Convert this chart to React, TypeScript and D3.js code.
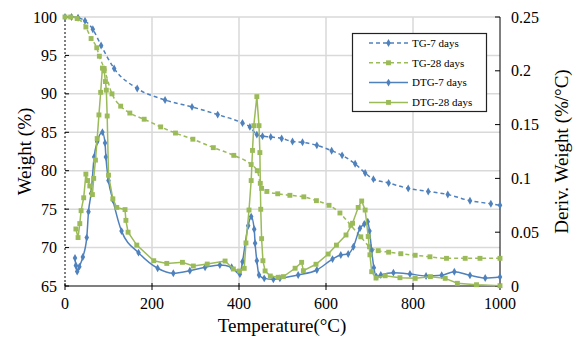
import React from "react";
import * as d3 from "d3";

// TG curves (left axis, %)
const tg7Temp = [0, 15, 30, 46, 64, 83, 113, 166, 230, 292, 351, 408, 425, 441, 454, 473, 498, 523, 546, 579, 613, 637, 667, 690, 709, 744, 789, 835, 880, 931, 979, 1000];
const tg7 = [100, 100, 99.9, 99.5, 98.4, 96.3, 93.3, 90.7, 89.2, 88.3, 87.3, 86.2, 85.7, 84.7, 84.5, 84.4, 84.2, 83.8, 83.7, 83.3, 82.6, 82.0, 80.9, 79.7, 78.9, 78.4, 77.7, 77.3, 76.9, 76.1, 75.7, 75.5];

const tg28Temp = [0, 13, 28, 48, 60, 73, 79, 90, 108, 128, 149, 182, 220, 254, 294, 341, 388, 428, 442, 452, 464, 489, 517, 549, 578, 607, 632, 657, 680, 700, 720, 744, 772, 805, 839, 877, 920, 954, 1000];
const tg28 = [100, 100, 99.8, 98.7, 97.2, 96.0, 94.9, 93.3, 90.0, 88.4, 87.5, 86.7, 85.7, 84.9, 84.1, 83.0, 82.0, 80.8, 80.0, 77.7, 77.3, 77.0, 76.8, 76.6, 76.1, 75.5, 74.5, 72.9, 71.4, 70.1, 69.6, 69.4, 69.2, 69.0, 68.8, 68.6, 68.6, 68.6, 68.6];

// DTG curves (right axis, %/°C)
const dtg7Temp = [23, 25, 28, 33, 41, 50, 54, 60, 67, 74, 86, 92, 94, 100, 110, 130, 169, 213, 249, 287, 322, 356, 383, 402, 408, 421, 428, 435, 437, 441, 446, 458, 479, 494, 536, 579, 615, 634, 651, 663, 678, 688, 696, 700, 705, 710, 716, 726, 755, 793, 830, 866, 895, 931, 966, 1000];
const dtg7 = [0.026, 0.019, 0.0135, 0.018, 0.027, 0.045, 0.069, 0.086, 0.12, 0.134, 0.143, 0.133, 0.12, 0.098, 0.08, 0.051, 0.031, 0.0165, 0.0118, 0.0142, 0.0174, 0.0195, 0.0174, 0.011, 0.0226, 0.056, 0.0645, 0.0527, 0.0397, 0.0235, 0.0102, 0.0071, 0.0062, 0.0071, 0.0102, 0.0149, 0.025, 0.0288, 0.0297, 0.0365, 0.0536, 0.0576, 0.0598, 0.051, 0.033, 0.017, 0.0087, 0.0102, 0.0124, 0.0112, 0.0093, 0.01, 0.0133, 0.0099, 0.0074, 0.0084];

const dtg28Temp = [25, 30, 34, 37, 43, 48, 52, 57, 63, 66, 70, 74, 78, 82, 86, 90, 93, 95, 97, 100, 110, 119, 138, 140, 145, 165, 204, 234, 270, 295, 327, 368, 387, 401, 412, 416, 423, 428, 431, 434, 441, 446, 448, 449, 450, 452, 455, 460, 472, 490, 502, 529, 544, 548, 577, 605, 624, 646, 661, 674, 682, 690, 697, 701, 705, 715, 736, 770, 805, 840, 874, 902, 946, 1000];
const dtg28 = [0.053, 0.045, 0.058, 0.07, 0.082, 0.104, 0.098, 0.093, 0.085, 0.1, 0.117, 0.137, 0.159, 0.18, 0.2025, 0.2, 0.19, 0.182, 0.158, 0.103, 0.081, 0.073, 0.071, 0.061, 0.05, 0.038, 0.0235, 0.021, 0.022, 0.0186, 0.0204, 0.0232, 0.0158, 0.0139, 0.0164, 0.04, 0.0706, 0.098, 0.126, 0.149, 0.176, 0.149, 0.124, 0.0954, 0.0713, 0.044, 0.0235, 0.014, 0.0093, 0.0081, 0.0087, 0.0165, 0.022, 0.0142, 0.0202, 0.0297, 0.038, 0.0474, 0.0583, 0.073, 0.079, 0.0706, 0.046, 0.029, 0.0133, 0.0074, 0.0095, 0.0077, 0.0071, 0.0087, 0.0071, 0.0025, 0.0012, 0.0003];

const xTicks = [0, 200, 400, 600, 800, 1000];
const leftTicks = [65, 70, 75, 80, 85, 90, 95, 100];
const rightTicks = [0, 0.05, 0.1, 0.15, 0.2, 0.25];
const rightTickLabels = ["0", "0.05", "0.1", "0.15", "0.2", "0.25"];

const legendNames = ["TG-7 days", "TG-28 days", "DTG-7 days", "DTG-28 days"];

const W = 577;
const H = 339;
const margin = { top: 17, right: 77, bottom: 53, left: 65 };
const blue = "#4F81BD";
const green = "#9BBB59";
const font = "Liberation Serif, DejaVu Serif, serif";

const x = d3.scaleLinear().domain([0, 1000]).range([margin.left, W - margin.right]);
const yL = d3.scaleLinear().domain([65, 100]).range([H - margin.bottom, margin.top]);
const yR = d3.scaleLinear().domain([0, 0.25]).range([H - margin.bottom, margin.top]);

const diamond = d3.symbol().type(d3.symbolDiamond).size(18)()!;
const square = d3.symbol().type(d3.symbolSquare).size(24)()!;

type Series = {
  name: string;
  temps: number[];
  vals: number[];
  y: d3.ScaleLinear<number, number>;
  color: string;
  dash?: string;
  marker: string;
  curve: d3.CurveFactory;
};

const series: Series[] = [
  { name: legendNames[0], temps: tg7Temp, vals: tg7, y: yL, color: blue, dash: "4,3", marker: diamond, curve: d3.curveMonotoneX },
  { name: legendNames[1], temps: tg28Temp, vals: tg28, y: yL, color: green, dash: "4,3", marker: square, curve: d3.curveMonotoneX },
  { name: legendNames[2], temps: dtg7Temp, vals: dtg7, y: yR, color: blue, marker: diamond, curve: d3.curveMonotoneX },
  { name: legendNames[3], temps: dtg28Temp, vals: dtg28, y: yR, color: green, marker: square, curve: d3.curveLinear },
];

export default function App() {
  const x0 = margin.left;
  const x1 = W - margin.right;
  const y0 = H - margin.bottom;
  const y1 = margin.top;

  return (
    <svg width={W} height={H} style={{ position: "absolute", left: 0, top: 0, background: "#fff", fontFamily: font }}>
      {/* grid */}
      {leftTicks.slice(1).map((t) => (
        <line key={"gh" + t} x1={x0} x2={x1} y1={yL(t)} y2={yL(t)} stroke="#d9d9d9" strokeWidth={1.5} />
      ))}
      {xTicks.slice(1, -1).map((t) => (
        <line key={"gv" + t} x1={x(t)} x2={x(t)} y1={y0} y2={y1} stroke="#d9d9d9" strokeWidth={1.5} />
      ))}

      {/* axes */}
      <line x1={x0} x2={x0} y1={y0} y2={y1} stroke="#000" strokeDasharray="2,2" />
      <line x1={x1} x2={x1} y1={y0} y2={y1} stroke="#000" />
      <line x1={x0} x2={x1} y1={y0} y2={y0} stroke="#000" strokeWidth={1.2} />
      {leftTicks.map((t) => (
        <g key={"lt" + t}>
          <line x1={x0} x2={x0 + 4} y1={yL(t)} y2={yL(t)} stroke="#000" />
          <text x={x0 - 8} y={yL(t)} dy="0.35em" textAnchor="end" fontSize={16}>{t}</text>
        </g>
      ))}
      {rightTicks.map((t, i) => (
        <g key={"rt" + t}>
          <line x1={x1 - 5} x2={x1} y1={yR(t)} y2={yR(t)} stroke="#000" />
          <text x={x1 + 11} y={yR(t)} dy="0.35em" textAnchor="start" fontSize={16}>{rightTickLabels[i]}</text>
        </g>
      ))}
      {xTicks.map((t) => (
        <g key={"xt" + t}>
          <line x1={x(t)} x2={x(t)} y1={y0 - 3} y2={y0 + 4} stroke="#000" />
          <text x={x(t)} y={y0 + 17} dy="0.35em" textAnchor="middle" fontSize={16}>{t}</text>
        </g>
      ))}

      {/* axis titles */}
      <text x={282} y={325} dy="0.35em" textAnchor="middle" fontSize={19}>Temperature(°C)</text>
      <text transform={`translate(24,${(y0 + y1) / 2}) rotate(-90)`} dy="0.35em" textAnchor="middle" fontSize={19}>Weight (%)</text>
      <text transform={`translate(561,${(y0 + y1) / 2}) rotate(-90)`} dy="0.35em" textAnchor="middle" fontSize={19}>Deriv. Weight (%/°C)</text>

      {/* series */}
      {series.map((s) => {
        const pts = s.temps.map((t, i) => [t, s.vals[i]] as [number, number]);
        const line = d3.line<[number, number]>().x((d) => x(d[0])).y((d) => s.y(d[1])).curve(s.curve);
        return (
          <g key={s.name}>
            <path d={line(pts) || ""} fill="none" stroke={s.color} strokeWidth={1.5} strokeDasharray={s.dash} />
            {pts.map((d, i) => (
              <path key={i} d={s.marker} transform={`translate(${x(d[0])},${s.y(d[1])})`} fill={s.color} />
            ))}
          </g>
        );
      })}

      {/* legend */}
      <g>
        <rect x={352.5} y={33.5} width={134} height={78} fill="#fff" stroke="#222" strokeWidth={1.2} />
        {series.map((s, i) => {
          const ly = 43 + i * 19.8;
          return (
            <g key={"lg" + i}>
              <line x1={369} x2={408} y1={ly} y2={ly} stroke={s.color} strokeWidth={1.5} strokeDasharray={s.dash} />
              <path d={s.marker} transform={`translate(388.5,${ly})`} fill={s.color} />
              <text x={412} y={ly} dy="0.35em" fontSize={11}>{s.name}</text>
            </g>
          );
        })}
      </g>
    </svg>
  );
}
